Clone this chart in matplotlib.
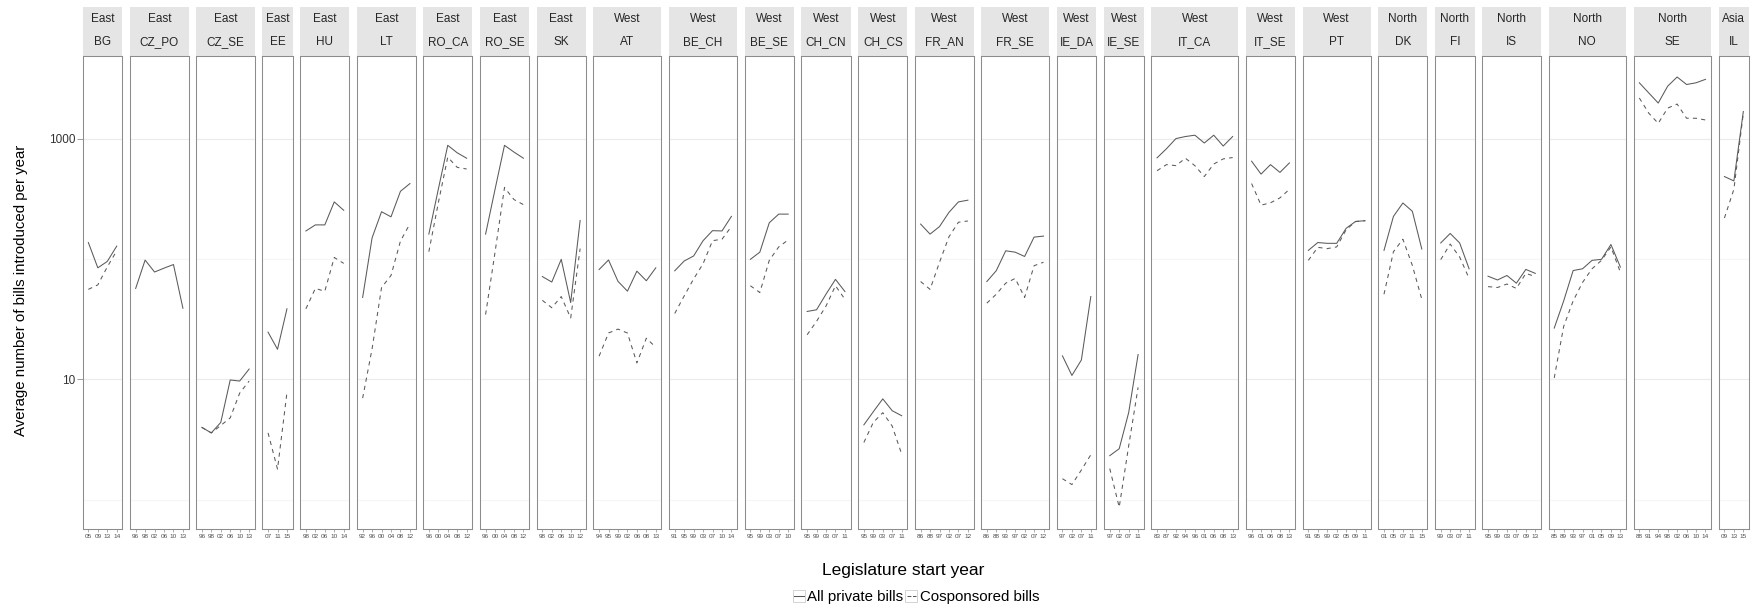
import matplotlib
matplotlib.use('Agg')
import matplotlib.pyplot as plt
import numpy as np
from matplotlib.lines import Line2D
from matplotlib.patches import Rectangle
from matplotlib.legend_handler import HandlerBase
from matplotlib.ticker import NullFormatter, FixedLocator

plt.rcParams['font.family'] = ['Liberation Sans', 'DejaVu Sans']

# ---------------- data ----------------
regions = ['East', 'East', 'East', 'East', 'East', 'East', 'East', 'East', 'East',
           'West', 'West', 'West', 'West', 'West', 'West', 'West', 'West', 'West',
           'West', 'West', 'West', 'North', 'North', 'North', 'North', 'North', 'Asia']
countries = ['BG', 'CZ_PO', 'CZ_SE', 'EE', 'HU', 'LT', 'RO_CA', 'RO_SE', 'SK',
             'AT', 'BE_CH', 'BE_SE', 'CH_CN', 'CH_CS', 'FR_AN', 'FR_SE', 'IE_DA', 'IE_SE',
             'IT_CA', 'IT_SE', 'PT', 'DK', 'FI', 'IS', 'NO', 'SE', 'IL']
years = [
    ['05', '09', '13', '14'],
    ['96', '98', '02', '06', '10', '13'],
    ['96', '98', '02', '06', '10', '13'],
    ['07', '11', '15'],
    ['98', '02', '06', '10', '14'],
    ['92', '96', '00', '04', '08', '12'],
    ['96', '00', '04', '08', '12'],
    ['96', '00', '04', '08', '12'],
    ['98', '02', '06', '10', '12'],
    ['94', '95', '99', '02', '06', '08', '13'],
    ['91', '95', '99', '03', '07', '10', '14'],
    ['95', '99', '03', '07', '10'],
    ['95', '99', '03', '07', '11'],
    ['95', '99', '03', '07', '11'],
    ['86', '88', '97', '02', '07', '12'],
    ['86', '88', '93', '97', '02', '07', '12'],
    ['97', '02', '07', '11'],
    ['97', '02', '07', '11'],
    ['83', '87', '92', '94', '96', '01', '06', '08', '13'],
    ['96', '01', '06', '08', '13'],
    ['91', '95', '99', '02', '05', '09', '11'],
    ['01', '05', '07', '11', '15'],
    ['99', '03', '07', '11'],
    ['95', '99', '03', '07', '09', '13'],
    ['85', '89', '93', '97', '01', '05', '09', '13'],
    ['88', '91', '94', '98', '02', '06', '10', '14'],
    ['09', '13', '15'],
]
all_bills = [
    [137, 84.5, 95.5, 128],
    [57, 98, 78, 84, 90, 39],
    [4.0, 3.6, 4.4, 9.9, 9.7, 12.2],
    [24.7, 17.8, 38.6],
    [171, 192, 192, 298, 254],
    [48, 150, 247, 224, 365, 423],
    [161, 379, 879, 762, 687],
    [161, 379, 879, 773, 687],
    [71.5, 64.4, 99.4, 43.5, 209],
    [81.8, 98.2, 65.3, 54.1, 79.3, 66, 84.5],
    [79.8, 96.3, 106, 142, 172, 171, 226],
    [99.4, 114, 200, 236, 236],
    [36.7, 37.9, 51.1, 67.8, 53.7],
    [4.2, 5.4, 6.9, 5.5, 5.0],
    [195, 161, 186, 244, 298, 308],
    [65, 80, 117, 114, 105, 152, 155],
    [15.7, 10.8, 14.5, 48.8],
    [2.33, 2.66, 5.3, 16.1],
    [692, 824, 1000, 1040, 1067, 919, 1067, 867, 1040],
    [649, 507, 608, 524, 628],
    [118, 137, 135, 135, 180, 205, 208],
    [118, 226, 292, 249, 121],
    [136, 163, 136, 83],
    [72, 67, 73, 63, 82, 76],
    [26.7, 44.9, 80.2, 83, 97.5, 99.4, 132, 85.7],
    [2905, 2393, 1973, 2724, 3245, 2812, 2905, 3103],
    [484, 445, 1678],
]
cosponsored = [
    [56, 61, 86, 117],
    None,
    [4.0, 3.6, 4.15, 4.8, 7.7, 9.7],
    [3.6, 1.8, 7.8],
    [38.6, 57, 54, 103, 92],
    [7.0, 18, 58, 73, 141, 196],
    [115, 292, 701, 577, 559],
    [34.6, 114, 392, 312, 283],
    [45.4, 39.4, 48.8, 32.4, 122],
    [15.6, 24.3, 26.2, 24.3, 13.7, 22, 18.5],
    [35.3, 49.4, 68.3, 91.4, 142, 146, 186],
    [60, 52.7, 97.5, 126, 144],
    [23.5, 30.4, 40.7, 60, 46.3],
    [3.0, 4.4, 5.3, 4.1, 2.4],
    [65, 56, 94, 153, 202, 207],
    [43, 51, 63, 69, 48, 88, 94],
    [1.5, 1.34, 1.77, 2.37],
    [1.82, 0.87, 2.8, 8.6],
    [541, 608, 596, 687, 596, 484, 615, 678, 696],
    [423, 280, 293, 322, 379],
    [97.5, 125, 122, 126, 175, 205, 208],
    [51, 115, 146, 88.5, 46.3],
    [99, 133, 104, 69],
    [59, 58, 62, 57, 76, 71.5],
    [10.3, 27.6, 44.9, 64, 83, 97.5, 126, 77.6],
    [2173, 1625, 1338, 1791, 1935, 1475, 1475, 1427],
    [219, 379, 1625],
]
series_labels = ['All private bills', 'Cosponsored bills']
y_major = [10, 1000]
y_major_labels = ['10', '1000']
y_minor = [1, 100]

# ---------------- layout ----------------
W, H = 1753, 613
fig = plt.figure(figsize=(W / 100, H / 100), dpi=100)

left_px, right_px = 82.7, 1749.0
top_px, bottom_px = 55.5, 528.7
gap_px = 7.6
strip_px = 49.0

n_pts = [len(y) for y in years]
ratios = [n + 0.2 for n in n_pts]
npan = len(ratios)
avg_w = ((right_px - left_px) - gap_px * (npan - 1)) / npan
gs = fig.add_gridspec(1, npan, width_ratios=ratios,
                      left=left_px / W, right=right_px / W,
                      top=1 - top_px / H, bottom=1 - bottom_px / H,
                      wspace=gap_px / avg_w)

vals = [v for s in all_bills + cosponsored if s for v in s]
lo, hi = np.log10(min(vals)), np.log10(max(vals))
pad = 0.05 * (hi - lo)
ylim = (10 ** (lo - pad), 10 ** (hi + pad))

line_c = '#5a5a5a'
border_c = '#8c8c8c'
panel_h = bottom_px - top_px
dash = (0, (4, 4))

for i in range(npan):
    ax = fig.add_subplot(gs[0, i])
    n = n_pts[i]
    x = np.arange(n)
    ax.plot(x, all_bills[i], color=line_c, lw=0.75)
    if cosponsored[i] is not None:
        ax.plot(x, cosponsored[i], color=line_c, lw=0.75, ls=dash)
    ax.set_yscale('log')
    ax.set_ylim(ylim)
    ax.set_xlim(-0.6, n - 0.4)
    ax.set_xticks(x)
    ax.set_xticklabels(years[i], fontsize=4.6, color='#4d4d4d')
    ax.tick_params(axis='x', length=2, width=0.5, color='#8c8c8c', pad=1.5)
    ax.yaxis.set_major_locator(FixedLocator(y_major))
    ax.yaxis.set_minor_locator(FixedLocator(y_minor))
    ax.yaxis.set_minor_formatter(NullFormatter())
    ax.grid(True, axis='y', which='major', color='#ebebeb', lw=0.8)
    ax.grid(True, axis='y', which='minor', color='#f6f6f6', lw=0.8)
    ax.set_axisbelow(True)
    ax.tick_params(axis='y', which='minor', left=False)
    if i == 0:
        ax.set_yticklabels(y_major_labels, fontsize=8.5, color='#333333')
        ax.tick_params(axis='y', which='major', length=4, width=0.6,
                       color='#8c8c8c', pad=1.5)
    else:
        ax.tick_params(axis='y', which='major', left=False, labelleft=False)
    for sp in ax.spines.values():
        sp.set_color(border_c)
        sp.set_linewidth(0.75)
    sh = strip_px / panel_h
    rect = Rectangle((0, 1), 1, sh, transform=ax.transAxes, clip_on=False,
                     facecolor='#e5e5e5', edgecolor='none', zorder=0)
    ax.add_artist(rect)
    ax.text(0.5, 1 + 36.9 / panel_h, regions[i], transform=ax.transAxes,
            ha='center', va='center', fontsize=8.5, color='#262626')
    ax.text(0.5, 1 + 13.2 / panel_h, countries[i], transform=ax.transAxes,
            ha='center', va='center', fontsize=8.5, color='#262626')

fig.text(21 / W, 1 - 290 / H, 'Average number of bills introduced per year',
         rotation=90, ha='center', va='center', fontsize=10.8)
fig.text(903 / W, 1 - 571 / H, 'Legislature start year',
         ha='center', va='center', fontsize=12.5)


class KeyHandler(HandlerBase):
    def create_artists(self, legend, orig_handle, xdescent, ydescent,
                       width, height, fontsize, trans):
        box = Rectangle((-xdescent, -ydescent), width, height,
                        facecolor='white', edgecolor='#cccccc', lw=0.6,
                        transform=trans)
        ln = Line2D([-xdescent + 0.1 * width, -xdescent + 0.9 * width],
                    [-ydescent + height / 2] * 2,
                    color=orig_handle.get_color(), lw=orig_handle.get_linewidth(),
                    ls=orig_handle.get_linestyle(), transform=trans)
        return [box, ln]


handles = [Line2D([], [], color=line_c, lw=0.75),
           Line2D([], [], color=line_c, lw=0.75, ls=(0, (2, 2)))]
fig.legend(handles, series_labels, loc='center',
           bbox_to_anchor=(916 / W, 1 - 597 / H), ncol=2, frameon=False,
           fontsize=10.8, handlelength=0.8, handleheight=0.8,
           handletextpad=0.15, columnspacing=0.15, borderpad=0,
           handler_map={Line2D: KeyHandler()})

fig.savefig('out.png', dpi=100)
